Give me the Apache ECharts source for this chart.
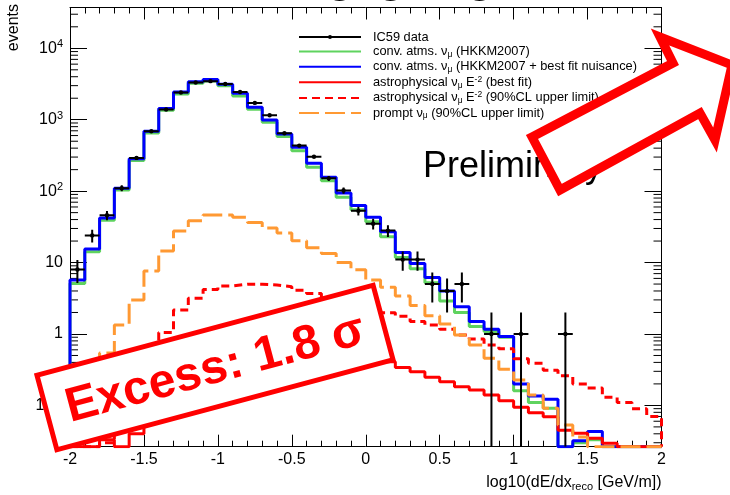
<!DOCTYPE html>
<html>
<head>
<meta charset="utf-8">
<script src="https://cdn.jsdelivr.net/npm/echarts@6/dist/echarts.min.js"></script>
<style>
  html, body { margin: 0; padding: 0; background: #fff; }
  #chart { width: 730px; height: 495px; }
</style>
</head>
<body>
<div id="chart"></div>
<script>
// Histogram bin edges in log10(dE/dx_reco [GeV/m])
const binEdges = [-2.0, -1.9, -1.8, -1.7, -1.6, -1.5, -1.4, -1.3, -1.2, -1.1,
  -1.0, -0.9, -0.8, -0.7, -0.6, -0.5, -0.4, -0.3, -0.2, -0.1,
  0.0, 0.1, 0.2, 0.3, 0.4, 0.5, 0.6, 0.7, 0.8, 0.9,
  1.0, 1.1, 1.2, 1.3, 1.4, 1.5, 1.6, 1.7, 1.8, 1.9, 2.0];

// Observed event counts per bin (IC59)
const ic59Counts = [8, 24, 46, 110, 292, 690, 1390, 2400, 3320, 3470,
  3170, 2450, 1720, 1155, 645, 434, 304, 151, 102, 53,
  35, 28, 11, 11, 5, 4, 5, 0, 1, 0,
  1, 0, 0, 1, 0, 0, 0, 0, 0, 0];

// conventional atmospheric nu_mu (HKKM2007)
const convAtms = [5.1, 14.2, 39, 104, 268, 650, 1360, 2300, 3250, 3480,
  3000, 2150, 1400, 920, 580, 369, 216, 140, 82, 55,
  37.4, 23, 11.8, 8.2, 5.2, 2.9, 2.0, 1.27, 1.08, 0.9,
  0.16, 0.11, 0.091, 0, 0.03, 0.033, 0, 0, 0, 0];

// conventional atmospheric nu_mu (HKKM2007 + best fit nuisance)
const convAtmsFit = [5.7, 15.5, 42, 110, 285, 690, 1440, 2450, 3400, 3650,
  3150, 2350, 1500, 990, 630, 412, 246, 157, 94, 63,
  43, 27, 13.8, 9.7, 6.2, 4.0, 2.4, 1.5, 1.16, 0.92,
  0.2, 0.135, 0.122, 0, 0.032, 0.043, 0, 0, 0, 0];

// astrophysical nu_mu E^-2 (best fit)
const astroBestFit = [0, 0, 0.033, 0, 0.04, 0.085, 0.2, 0.41, 0.6, 0.8,
  0.9, 0.94, 0.94, 0.9, 0.85, 0.78, 0.7, 0.62, 0.56, 0.5,
  0.45, 0.41, 0.34, 0.297, 0.247, 0.215, 0.183, 0.164, 0.14, 0.116,
  0.094, 0.079, 0.0695, 0.045, 0.0407, 0.0347, 0.0295, 0, 0, 0];

// astrophysical nu_mu E^-2 (90%CL upper limit)
const astroUpperLimit = [0, 0, 0.03, 0.08, 0.19, 0.45, 1.05, 2.17, 3.16, 4.2,
  4.7, 4.97, 4.97, 4.85, 4.6, 4.1, 3.7, 3.3, 2.9, 2.55,
  2.25, 1.99, 1.77, 1.5, 1.34, 1.16, 0.97, 0.85, 0.7, 0.62,
  0.45, 0.39, 0.31, 0.26, 0.2, 0.175, 0.13, 0.11, 0.09, 0.07];

// prompt nu_mu (90%CL upper limit)
const promptUpperLimit = [0.05, 0.17, 0.54, 1.34, 3.0, 7.6, 14.5, 27.7, 38.6, 46.4,
  46.4, 43, 36.5, 30.5, 25.9, 20.2, 16.1, 13.4, 10, 7.9,
  5.7, 4.5, 3.4, 2.5, 1.8, 1.38, 0.97, 0.7, 0.457, 0.32,
  0.227, 0.14, 0.091, 0.053, 0.036, 0, 0, 0, 0, 0];

// minor tick positions on the logarithmic count axis
const yMinorTicks = [0.03, 0.04, 0.05, 0.06, 0.07, 0.08, 0.09,
  0.2, 0.3, 0.4, 0.5, 0.6, 0.7, 0.8, 0.9,
  2, 3, 4, 5, 6, 7, 8, 9,
  20, 30, 40, 50, 60, 70, 80, 90,
  200, 300, 400, 500, 600, 700, 800, 900,
  2000, 3000, 4000, 5000, 6000, 7000, 8000, 9000,
  20000, 30000];

const Y_MIN = 0.0264, Y_MAX = 37270;
const X_MIN = -2, X_MAX = 2;
const FONT = '"Liberation Sans", Arial, Helvetica, sans-serif';

const NAMES = {
  data: 'IC59 data',
  conv: 'conv. atms. numu (HKKM2007)',
  convFit: 'conv. atms. numu (HKKM2007 + best fit nuisance)',
  astro: 'astrophysical numu E-2 (best fit)',
  astroUL: 'astrophysical numu E-2 (90%CL upper limit)',
  prompt: 'prompt numu (90%CL upper limit)'
};
const LEGEND_TEXT = {};
LEGEND_TEXT[NAMES.data] = '{g|}IC59 data';
LEGEND_TEXT[NAMES.conv] = '{g|}conv. atms. ν{sub|μ} (HKKM2007)';
LEGEND_TEXT[NAMES.convFit] = '{g|}conv. atms. ν{sub|μ} (HKKM2007 + best fit nuisance)';
LEGEND_TEXT[NAMES.astro] = '{g|}astrophysical ν{sub|μ} E{sup|-2} (best fit)';
LEGEND_TEXT[NAMES.astroUL] = '{g|}astrophysical ν{sub|μ} E{sup|-2} (90%CL upper limit)';
LEGEND_TEXT[NAMES.prompt] = '{g|}prompt ν{sub|μ} (90%CL upper limit)';

// Build step outline points: closes down to the frame bottom at both ends
function stepPoints(values) {
  const pts = [[binEdges[0], Y_MIN]];
  for (let i = 0; i < values.length; i++) {
    pts.push([binEdges[i], values[i] > 0 ? values[i] : Y_MIN]);
  }
  const last = values[values.length - 1];
  pts.push([binEdges[binEdges.length - 1], last > 0 ? last : Y_MIN]);
  pts.push([binEdges[binEdges.length - 1], Y_MIN]);
  return pts;
}

function histSeries(name, values, color, type, z) {
  return {
    name: name, type: 'line', step: 'end', data: stepPoints(values),
    showSymbol: false, symbol: 'none', z: z, silent: true,
    lineStyle: { color: color, width: 3, type: type, cap: 'butt' },
    itemStyle: { color: color },
    animation: false
  };
}

// Data points with Poisson error bars
const pointData = [];
for (let i = 0; i < ic59Counts.length; i++) {
  if (ic59Counts[i] > 0) {
    pointData.push([(binEdges[i] + binEdges[i + 1]) / 2, ic59Counts[i],
      binEdges[i], binEdges[i + 1], Math.sqrt(ic59Counts[i])]);
  }
}

function renderPoint(params, api) {
  const n = api.value(1), err = api.value(4);
  const c = api.coord([api.value(0), n]);
  const l = api.coord([api.value(2), n]);
  const r = api.coord([api.value(3), n]);
  const up = api.coord([api.value(0), Math.min(n + err, Y_MAX)]);
  const lowVal = n - err;
  const lo = api.coord([api.value(0), lowVal > Y_MIN ? lowVal : Y_MIN]);
  const st = { stroke: '#000', lineWidth: 2 };
  return {
    type: 'group', children: [
      { type: 'line', shape: { x1: l[0], y1: c[1], x2: r[0], y2: c[1] }, style: st },
      { type: 'line', shape: { x1: c[0], y1: up[1], x2: c[0], y2: lo[1] }, style: st },
      { type: 'circle', shape: { cx: c[0], cy: c[1], r: 2.2 }, style: { fill: '#000' } }
    ]
  };
}

function renderMinorTick(params, api) {
  const v = api.value(1);
  const p = api.coord([X_MIN, v]);
  const q = api.coord([X_MAX, v]);
  const st = { stroke: '#000', lineWidth: 1 };
  return {
    type: 'group', children: [
      { type: 'line', shape: { x1: p[0], y1: p[1], x2: p[0] + 8, y2: p[1] }, style: st },
      { type: 'line', shape: { x1: q[0] - 8, y1: q[1], x2: q[0], y2: q[1] }, style: st }
    ]
  };
}

function logLabel(v) {
  const e = Math.round(Math.log10(v));
  if (e === 0) return '1';
  if (e === 1) return '10';
  return '10{sup|' + e + '}';
}

const xAxisCommon = {
  type: 'value', min: X_MIN, max: X_MAX, interval: 0.5,
  axisLine: { show: true, onZero: false, lineStyle: { color: '#000', width: 1 } },
  axisTick: { show: true, inside: true, length: 12, lineStyle: { color: '#000', width: 1 } },
  minorTick: { show: true, splitNumber: 5, length: 6, lineStyle: { color: '#000', width: 1 } },
  splitLine: { show: false }, minorSplitLine: { show: false }
};
const yAxisCommon = {
  type: 'log', logBase: 10, min: Y_MIN, max: Y_MAX, splitNumber: 6,
  axisLine: { show: true, onZero: false, lineStyle: { color: '#000', width: 1 } },
  axisTick: { show: true, inside: true, length: 17, lineStyle: { color: '#000', width: 1 } },
  splitLine: { show: false }
};

// legend entries for the histograms show only the line sample
const histLegendItem = name => ({ name: name, itemStyle: { opacity: 0 } });

// lower ends of the slide heading, cut by the top edge
const headingGlyphs = [340, 391, 480].map(x => ({
  type: 'text', x: x, y: -21.5, z: 30,
  style: { text: 'g', font: 'bold 46px ' + FONT, fill: '#000', align: 'center', verticalAlign: 'middle' }
}));

const chart = echarts.init(document.getElementById('chart'), null, { renderer: 'canvas' });

chart.setOption({
  animation: false,
  backgroundColor: '#fff',
  grid: { left: 70, right: 68.5, top: 7.5, bottom: 48.3, containLabel: false },
  xAxis: [
    Object.assign({}, xAxisCommon, {
      position: 'bottom',
      axisLabel: { show: true, color: '#000', fontFamily: FONT, fontSize: 16, margin: 5,
        formatter: v => (Math.abs(v) < 1e-9 ? '0' : String(+v.toFixed(1))) },
      name: 'log10(dE/dx{sub|reco} [GeV/m])',
      nameLocation: 'end', nameGap: 0,
      nameTextStyle: { color: '#000', fontFamily: FONT, fontSize: 16, align: 'right',
        verticalAlign: 'top', padding: [26, 0, 0, 0],
        rich: { sub: { fontSize: 11, fontFamily: FONT, color: '#000', padding: [9, 0, 0, 0] } } }
    }),
    Object.assign({}, xAxisCommon, { position: 'top', axisLabel: { show: false } })
  ],
  yAxis: [
    Object.assign({}, yAxisCommon, {
      position: 'left',
      axisLabel: { show: true, color: '#000', fontFamily: FONT, fontSize: 16, margin: 7,
        showMinLabel: false, showMaxLabel: false, formatter: logLabel,
        rich: { sup: { fontSize: 11, fontFamily: FONT, color: '#000', padding: [0, 0, 8, 0] } } }
    }),
    Object.assign({}, yAxisCommon, { position: 'right', axisLabel: { show: false } })
  ],
  legend: {
    orient: 'vertical', left: 298, top: 30, padding: 0,
    itemWidth: 62, itemHeight: 5, itemGap: 0.6,
    data: [NAMES.data, histLegendItem(NAMES.conv), histLegendItem(NAMES.convFit),
      histLegendItem(NAMES.astro), histLegendItem(NAMES.astroUL), histLegendItem(NAMES.prompt)],
    formatter: name => LEGEND_TEXT[name],
    selectedMode: false,
    textStyle: {
      color: '#000', fontFamily: FONT, fontSize: 12.8, lineHeight: 14,
      rich: {
        g: { width: 7 },
        sub: { fontSize: 8.5, fontFamily: FONT, color: '#000', padding: [6, 0, 0, 0] },
        sup: { fontSize: 8.5, fontFamily: FONT, color: '#000', padding: [0, 0, 6, 0] }
      }
    }
  },
  series: [
    {
      name: 'minorTicks', type: 'custom', silent: true, z: 1,
      data: yMinorTicks.map(v => [X_MIN, v]),
      renderItem: renderMinorTick
    },
    histSeries(NAMES.conv, convAtms, '#5fd35f', 'solid', 2),
    histSeries(NAMES.convFit, convAtmsFit, '#0000ff', 'solid', 3),
    histSeries(NAMES.astro, astroBestFit, '#ff0000', 'solid', 4),
    histSeries(NAMES.astroUL, astroUpperLimit, '#ff0000', [8, 5], 4),
    histSeries(NAMES.prompt, promptUpperLimit, '#ff9933', [20, 6], 4),
    {
      name: NAMES.data, type: 'line', data: [], symbol: 'circle', z: 6,
      lineStyle: { color: '#000', width: 2 }, itemStyle: { color: '#000' }
    },
    {
      name: 'IC59 points', type: 'custom', z: 7, silent: true,
      data: pointData, renderItem: renderPoint, clip: true
    }
  ],
  graphic: headingGlyphs.concat([
    {
      type: 'text', x: 14, y: 4, rotation: Math.PI / 2, z: 30,
      style: { text: 'events', font: '16px ' + FONT, fill: '#000', align: 'right', verticalAlign: 'middle' }
    },
    {
      type: 'text', x: 423, y: 167.5, z: 30,
      style: { text: 'Preliminary', font: '36px ' + FONT, fill: '#000', align: 'left', verticalAlign: 'middle' }
    },
    {
      type: 'polygon', z: 40,
      shape: { points: [[532, 137], [673, 63], [660, 37], [732, 65], [715, 140], [700, 113], [560, 190]] },
      style: { fill: '#fff', stroke: '#ff0000', lineWidth: 9, lineJoin: 'miter', miterLimit: 10 }
    },
    {
      type: 'group', x: 215, y: 367.5, rotation: 15 * Math.PI / 180, z: 40,
      children: [
        { type: 'rect', z: 40, shape: { x: -174, y: -38.5, width: 348, height: 77 },
          style: { fill: '#fff', stroke: '#ff0000', lineWidth: 5 } },
        { type: 'text', z: 41, x: 0, y: 2,
          style: { text: 'Excess: 1.8 σ', font: 'bold 48px ' + FONT, fill: '#ff0000', align: 'center', verticalAlign: 'middle' } }
      ]
    }
  ])
});
</script>
</body>
</html>
